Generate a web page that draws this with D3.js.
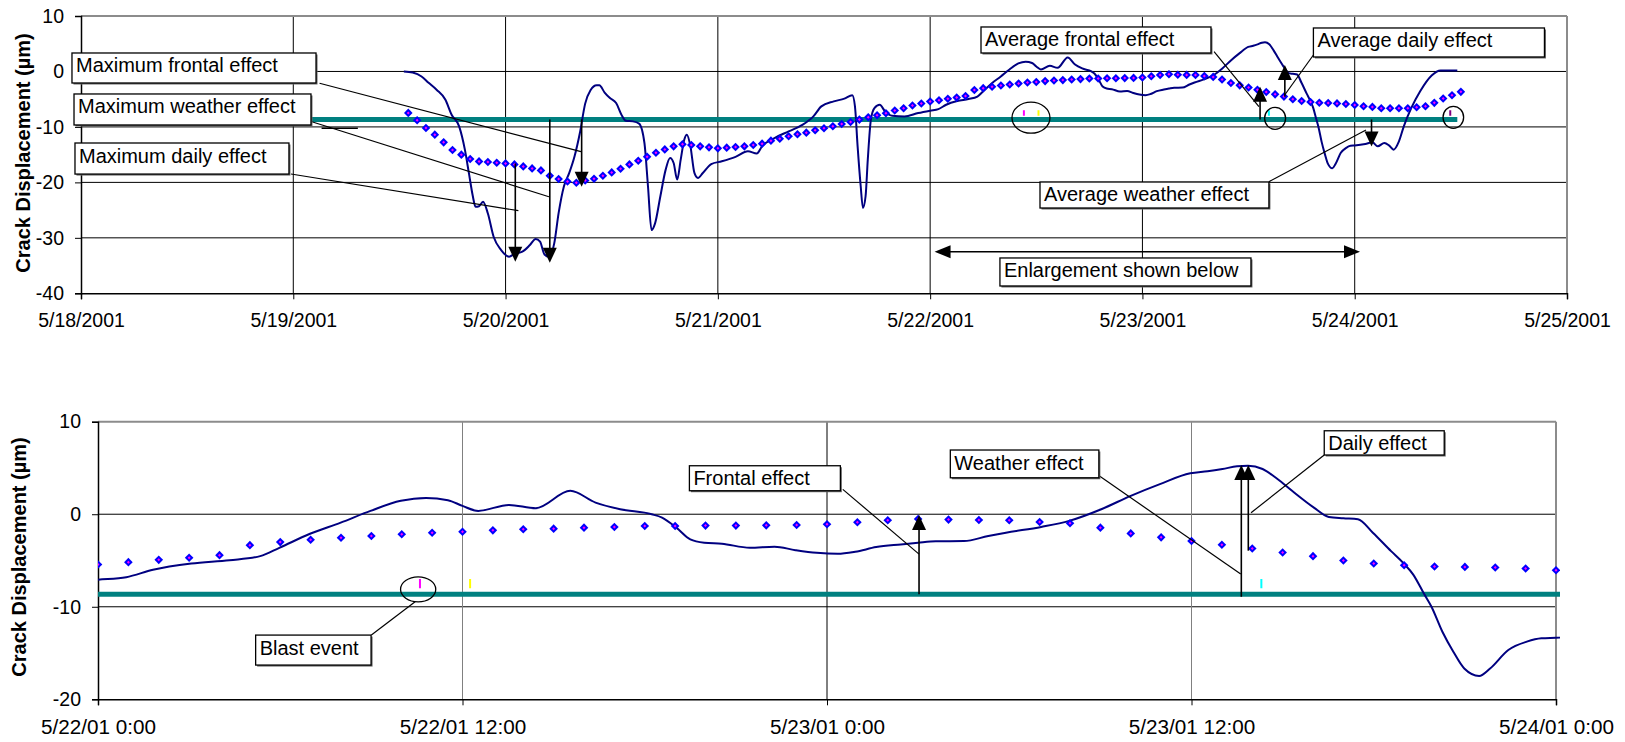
<!DOCTYPE html>
<html>
<head>
<meta charset="utf-8">
<script src="https://cdn.jsdelivr.net/npm/d3@7"></script>
<style>
  body { margin: 0; background: #fff; }
  svg { display: block; font-family: "Liberation Sans", Arial, sans-serif; }
</style>
</head>
<body>
<svg id="chart" width="1625" height="742"></svg>
<script>
// ---------------- data ----------------
// All times are hours counted from 5/18/2001 0:00.
const seriesStart = new Date(2001, 4, 18, 0, 0);

// Hourly running average of crack displacement (µm), 5/19 13:00 .. 5/24 12:00
const avgFirstHour = 37;
const avgValues = [
  -7.47, -8.8, -10.19, -11.39, -12.78, -14.16, -15.0, -15.79, -16.22, -16.33,
  -16.46, -16.58, -16.76, -17.12, -17.48, -17.84, -18.8, -19.4, -19.84, -20.07,
  -19.65, -19.35, -18.8, -18.2, -17.54, -16.76, -16.09, -15.37, -14.65, -14.05,
  -13.5, -13.14, -13.26, -13.5, -13.68, -13.86, -13.74, -13.62, -13.5, -13.26,
  -13.02, -12.48, -12.12, -11.69, -11.33, -11.03, -10.6, -10.24, -9.88, -9.46,
  -9.1, -8.68, -8.26, -7.9, -7.53, -7.05, -6.63, -6.15, -5.79,
  -5.43, -5.18, -4.93, -4.71, -4.42, -3.34, -3.01, -2.76, -2.54, -2.36,
  -2.17, -2.0, -1.89, -1.74, -1.63, -1.56, -1.45, -1.38, -1.27, -1.27,
  -1.23, -1.23, -1.2, -1.16, -1.09, -0.87, -0.65, -0.51, -0.58, -0.62,
  -0.65, -0.84, -0.98, -1.45, -2.07, -2.5, -2.9, -3.3, -3.7, -4.13,
  -4.53, -5.0, -5.33, -5.51, -5.65, -5.69, -5.76, -5.87, -6.05,
  -6.27, -6.39, -6.63, -6.63, -6.63, -6.63, -6.45, -6.27, -5.66, -4.88, -4.28, -3.68
];

// Measured crack displacement (µm)
const rawHours = [
  36.5, 37.5, 38.5, 39.3, 40.2, 41.2, 41.9, 42.75, 43.4, 43.85, 44.3, 44.6, 45.0, 45.45, 46.0,
  46.65, 47.5, 48.4, 49.0, 49.9, 50.75, 51.4, 51.9, 52.4, 52.9, 53.5, 54.0, 54.6, 55.2, 55.8,
  56.4, 57.0, 57.6, 58.3, 58.6, 59.2, 59.8, 60.5, 61.1, 61.6, 62.4, 63.1, 63.7, 64.1, 64.5,
  64.9, 65.5, 66.1, 66.6, 67.0, 67.4, 67.8, 68.2, 68.5, 68.9, 69.35, 69.75, 70.3, 71.25, 72.45,
  74.0, 75.4, 76.4, 77.0, 78.4, 80.0, 81.6, 82.8, 83.7, 85.1, 86.3, 87.2, 87.5, 87.8, 88.15,
  88.4, 88.7, 88.95, 89.3, 89.7, 90.3, 90.9, 91.7, 93.1, 94.65,
  96.0, 96.93, 97.81, 99.07, 100.33, 101.34, 101.97, 102.98, 103.99, 104.97, 105.97, 106.8,
  107.52, 108.0, 108.52, 109.53, 110.41, 111.55, 112.38, 113.19, 114.23, 114.57, 115.04, 115.5,
  115.96, 116.54, 117.46, 118.27, 118.96, 119.66, 120.35, 120.93, 121.62, 122.43, 123.0, 123.58,
  124.51, 125.31, 125.89, 127.05, 127.97, 129.03, 130.0, 130.96, 131.96, 132.53, 133.02, 133.5,
  133.86, 134.34, 134.83, 135.31, 136.03, 136.52, 137.0, 137.48, 137.97, 138.57, 138.97, 139.3,
  139.66, 139.9, 140.26, 140.62, 140.98, 141.47, 141.83, 142.43, 143.04, 143.52, 144.0,
  145.2, 146.0, 146.6, 147.35, 147.9, 148.4, 149.0, 149.55, 150.4, 151.4, 152.7, 153.7, 155.6
];
const rawValues = [
  0.0, -0.2, -0.9, -2.05, -3.3, -5.1, -7.8, -9.9, -14.1, -18.3, -22.5, -24.4, -24.3, -23.5, -25.6,
  -29.8, -32.2, -33.4, -32.9, -32.5, -31.3, -30.2, -30.7, -33.0, -33.4, -31.0, -25.5, -20.7, -18.3, -15.3,
  -11.1, -5.8, -3.4, -2.5, -2.5, -3.8, -4.8, -5.7, -7.8, -8.9, -9.0, -9.4, -12.9, -20.7, -28.6,
  -27.4, -22.5, -17.7, -15.6, -16.5, -19.5, -15.9, -12.3, -11.4, -13.5, -18.3, -19.2, -18.3, -16.7, -16.2,
  -15.4, -14.4, -14.8, -13.5, -12.0, -10.8, -9.6, -8.1, -6.3, -5.4, -4.9, -4.3, -6.3, -13.5, -20.7,
  -24.6, -22.5, -15.9, -8.7, -6.6, -6.0, -7.2, -8.0, -8.1, -7.5,
  -7.07, -6.8, -6.0, -5.33, -4.97, -4.53, -3.63, -2.11, -0.91, 0.36, 1.45, 1.76,
  1.52, 0.9, 0.36, 1.01, 0.65, 2.53, 1.26, 0.54, 0.0, -0.36, -1.45, -2.72,
  -3.08, -3.19, -3.62, -3.51, -3.88, -4.17, -4.28, -4.06, -3.55, -3.26, -3.08, -2.93,
  -2.9, -2.35, -1.99, -1.37, -0.72, 0.54, 1.99, 3.26, 4.42, 4.64, 4.89, 5.18,
  5.25, 4.89, 3.8, 2.53, 0.72, -0.29, -0.43, -0.54, -2.0, -3.99, -5.26, -6.52,
  -8.63, -10.0, -12.7, -14.86, -16.67, -17.47, -16.67, -14.67, -13.77, -13.41, -13.35,
  -13.08, -12.78, -13.5, -12.9, -13.38, -14.1, -12.6, -9.89, -6.57, -3.56, -0.72, 0.18, 0.18
];

// Reference (baseline) level and its extent in the overview
const baselineValue = -8.65;
const baselineHours = [0, 155.6];

// Blast events
const blastHours = [106.6, 108.25, 134.3, 154.8];
const blastColors = ["#ff00ff", "#ffff00", "#00ffff", "#800080"];

// Axis ticks
const topDayHours = [0, 24, 48, 72, 96, 120, 144, 168];
const topTickLabels = ["5/18/2001", "5/19/2001", "5/20/2001", "5/21/2001", "5/22/2001", "5/23/2001", "5/24/2001", "5/25/2001"];
const topYTicks = [10, 0, -10, -20, -30, -40];
const bottomTickHours = [96, 108, 120, 132, 144];
const bottomTickLabels = ["5/22/01 0:00", "5/22/01 12:00", "5/23/01 0:00", "5/23/01 12:00", "5/24/01 0:00"];
const bottomYTicks = [10, 0, -10, -20];
const yTitle = "Crack Displacement (\u00b5m)";

// Callouts: box = [startHour, endHour, topValue, bottomValue]
const topCallouts = [
  { text: "Maximum frontal effect", box: [-1.02, 26.57, 3.33, -2.08], leader: [[26.97, -2.13], [56.53, -14.46]] },
  { text: "Maximum weather effect", box: [-0.79, 26.0, -4.06, -9.65], leader: [[26.1, -9.06], [52.9, -22.6]] },
  { text: "Maximum daily effect", box: [-0.68, 23.51, -12.9, -18.5], leader: [[23.74, -18.49], [49.45, -25.1]] },
  { text: "Average frontal effect", box: [101.75, 127.75, 8.02, 3.33], leader: [[128.1, 3.57], [133.17, -6.34]] },
  { text: "Average daily effect", box: [139.33, 165.45, 7.84, 2.61], leader: [[139.33, 2.97], [136.1, -4.2]] },
  { text: "Average weather effect", box: [108.42, 134.3, -19.93, -24.62], leader: [[134.3, -19.87], [145.27, -10.55]] },
  { text: "Enlargement shown below", box: [103.89, 132.27, -33.63, -38.68], leader: null }
];
// Arrows: [hour, fromValue, tipValue]
const topArrows = [
  [56.6, baselineValue, -20.8],
  [53.0, baselineValue, -34.5],
  [49.1, -16.6, -34.3],
  [133.3, baselineValue, -2.75],
  [136.1, -4.55, 1.15],
  [145.9, baselineValue, -13.55]
];
// Circled blast events: [hour, value, rx, ry]
const topRings = [[107.4, -8.34, 19, 15.5], [135.0, -8.45, 10.5, 11], [155.15, -8.27, 10.3, 11]];
const enlargeSpan = [96.5, 144.6, -32.5];
const topStubs = [[27.2, 31.3, -10.25]];

const bottomCallouts = [
  { text: "Blast event", box: [101.19, 104.99, -13.06, -16.3], leader: [[105.0, -13.06], [106.44, -9.46]] },
  { text: "Frontal effect", box: [115.47, 120.44, 5.24, 2.54], leader: [[120.52, 2.69], [123.03, -4.31]] },
  { text: "Weather effect", box: [124.06, 128.95, 6.94, 3.94], leader: [[128.97, 4.13], [133.62, -6.46]] },
  { text: "Daily effect", box: [136.37, 140.32, 9.02, 6.4], leader: [[136.37, 6.4], [133.96, 0.16]] }
];
const bottomArrows = [
  [123.03, baselineValue, -0.09],
  [133.64, -8.92, 5.32],
  [133.87, -3.94, 5.32]
];
const bottomRings = [[106.54, -8.12, 17.6, 12.5]];

// ---------------- drawing ----------------
const HOUR = 3600 * 1000;
const at = h => new Date(seriesStart.getTime() + h * HOUR);
const svg = d3.select("#chart");

const avgPoints = avgValues.map((v, i) => ({ h: avgFirstHour + i, v }));
const rawPoints = rawValues.map((v, i) => ({ h: rawHours[i], v }));

function diamond(r) { return `M0,${-r}L${r},0L0,${r}L${-r},0Z`; }

function drawPanel(cfg) {
  const { x, y, xTicks, xLabels, yTicks, xFontSize, gridColorX, clipId, hGrid } = cfg;
  const [x0, x1] = x.range();
  const [yb, yt] = y.range();
  const g = svg.append("g");

  // clip region for the series
  svg.append("clipPath").attr("id", clipId).append("rect")
    .attr("x", x0).attr("y", yt - 2).attr("width", x1 - x0 + 4).attr("height", yb - yt + 4);

  // gridlines
  g.selectAll("line.hg").data(hGrid).join("line")
    .attr("x1", x0).attr("x2", x1).attr("y1", d => y(d)).attr("y2", d => y(d))
    .attr("stroke", "#000").attr("stroke-width", 1);
  g.selectAll("line.vg").data(xTicks.slice(1, -1)).join("line")
    .attr("x1", d => x(at(d))).attr("x2", d => x(at(d))).attr("y1", yt).attr("y2", yb)
    .attr("stroke", (d) => gridColorX(d)).attr("stroke-width", 1);

  // plot frame: grey top and right, black axes
  g.append("line").attr("x1", x0).attr("x2", x1).attr("y1", yt).attr("y2", yt).attr("stroke", "#8c8c8c").attr("stroke-width", 2);
  g.append("line").attr("x1", x1).attr("x2", x1).attr("y1", yt).attr("y2", yb).attr("stroke", "#8c8c8c").attr("stroke-width", 2);

  // axes
  const yAxis = d3.axisLeft(y).tickValues(yTicks).tickSize(6).tickPadding(11).tickFormat(d => String(d));
  const ya = g.append("g").attr("transform", `translate(${x0},0)`).call(yAxis);
  ya.select(".domain").attr("stroke", "#000").attr("stroke-width", 1.5);
  ya.selectAll(".tick line").attr("stroke", "#000");
  ya.selectAll("text").attr("font-size", 19.5).attr("fill", "#000")
    .attr("font-family", '"Liberation Sans", Arial, sans-serif');

  const xAxis = d3.axisBottom(x).tickValues(xTicks.map(at)).tickSize(6).tickPadding(14)
    .tickFormat((d, i) => xLabels[i]);
  const xa = g.append("g").attr("transform", `translate(0,${yb})`).call(xAxis);
  xa.select(".domain").attr("stroke", "#000").attr("stroke-width", 1.5);
  xa.selectAll(".tick line").attr("stroke", "#000");
  xa.selectAll("text").attr("font-size", xFontSize).attr("fill", "#000")
    .attr("font-family", '"Liberation Sans", Arial, sans-serif');

  return g;
}

function drawSeries(g, x, y, clipId, baseFrom, baseTo, hMin, hMax) {
  const s = g.append("g").attr("clip-path", `url(#${clipId})`);
  // baseline level
  s.append("line")
    .attr("x1", x(at(baseFrom))).attr("x2", x(at(baseTo)))
    .attr("y1", y(baselineValue)).attr("y2", y(baselineValue))
    .attr("stroke", "#008080").attr("stroke-width", 5);
  // measured displacement
  const line = d3.line().x(d => x(at(d.h))).y(d => y(d.v)).curve(d3.curveMonotoneX);
  s.append("path").datum(rawPoints.filter(d => d.h >= hMin - 2 && d.h <= hMax + 2))
    .attr("d", line).attr("fill", "none").attr("stroke", "#000080").attr("stroke-width", 2);
  // running average markers
  const dots = s.selectAll("g.avg").data(avgPoints.filter(d => d.h >= hMin && d.h <= hMax)).join("g")
    .attr("transform", d => `translate(${x(at(d.h))},${y(d.v)})`);
  dots.append("path").attr("d", diamond(4.3)).attr("fill", "#0000ff");
  dots.append("path").attr("d", diamond(1.5)).attr("fill", "#ff00ff");
  // blast markers
  s.selectAll("line.blast").data(blastHours.filter(h => h >= hMin && h <= hMax)).join("line")
    .attr("x1", h => x(at(h))).attr("x2", h => x(at(h)))
    .attr("y1", y(-7.0)).attr("y2", y(-8.0))
    .attr("stroke", h => blastColors[blastHours.indexOf(h)]).attr("stroke-width", 2);
}

function drawArrow(g, x, y, a) {
  const [h, vFrom, vTip] = a;
  const px = x(at(h)), y0 = y(vFrom), y1 = y(vTip);
  const dir = y1 < y0 ? 1 : -1;
  const L = 15, W = 7;
  g.append("line").attr("x1", px).attr("x2", px).attr("y1", y0).attr("y2", y1 + dir * L * 0.6)
    .attr("stroke", "#000").attr("stroke-width", 1.6);
  g.append("path").attr("d", `M${px},${y1}L${px - W},${y1 + dir * L}L${px + W},${y1 + dir * L}Z`).attr("fill", "#000");
}

function drawCallout(g, x, y, c) {
  const bx0 = x(at(c.box[0])), bx1 = x(at(c.box[1]));
  const by0 = y(c.box[2]), by1 = y(c.box[3]);
  if (c.leader) {
    g.append("line")
      .attr("x1", x(at(c.leader[0][0]))).attr("y1", y(c.leader[0][1]))
      .attr("x2", x(at(c.leader[1][0]))).attr("y2", y(c.leader[1][1]))
      .attr("stroke", "#000").attr("stroke-width", 1.2);
  }
  g.append("rect").attr("x", bx0 + 1.5).attr("y", by0 + 1.5).attr("width", bx1 - bx0).attr("height", by1 - by0)
    .attr("fill", "#666");
  g.append("rect").attr("x", bx0).attr("y", by0).attr("width", bx1 - bx0).attr("height", by1 - by0)
    .attr("fill", "#fff").attr("stroke", "#000").attr("stroke-width", 1.3);
  g.append("text").attr("x", bx0 + 4).attr("y", by0 + 19.5).attr("font-size", 20).attr("fill", "#000").text(c.text);
}

function drawRings(g, x, y, rings) {
  g.selectAll("ellipse.ring").data(rings).join("ellipse")
    .attr("cx", d => x(at(d[0]))).attr("cy", d => y(d[1]))
    .attr("rx", d => d[2]).attr("ry", d => d[3])
    .attr("fill", "none").attr("stroke", "#000").attr("stroke-width", 1.3);
}

// ---- overview panel ----
const xTop = d3.scaleTime().domain([at(0), at(168)]).range([81, 1567]);
const yTop = d3.scaleLinear().domain([-40, 10]).range([293.3, 16]);
const gTop = drawPanel({
  x: xTop, y: yTop, xTicks: topDayHours, xLabels: topTickLabels, yTicks: topYTicks,
  xFontSize: 19.5, gridColorX: () => "#000", clipId: "clipTop", hGrid: [0, -10, -20, -30]
});
topStubs.forEach(s => {
  gTop.append("line").attr("x1", xTop(at(s[0]))).attr("x2", xTop(at(s[1])))
    .attr("y1", yTop(s[2])).attr("y2", yTop(s[2])).attr("stroke", "#000").attr("stroke-width", 1.5);
});
drawSeries(gTop, xTop, yTop, "clipTop", baselineHours[0], baselineHours[1], 0, 168);
drawRings(gTop, xTop, yTop, topRings);
topArrows.forEach(a => drawArrow(gTop, xTop, yTop, a));
topCallouts.forEach(c => drawCallout(gTop, xTop, yTop, c));
// enlargement span arrow
{
  const ex0 = xTop(at(enlargeSpan[0])), ex1 = xTop(at(enlargeSpan[1])), ey = yTop(enlargeSpan[2]);
  gTop.append("line").attr("x1", ex0 + 10).attr("x2", ex1 - 10).attr("y1", ey).attr("y2", ey)
    .attr("stroke", "#000").attr("stroke-width", 1.6);
  gTop.append("path").attr("d", `M${ex0},${ey}L${ex0 + 16},${ey - 6.5}L${ex0 + 16},${ey + 6.5}Z`).attr("fill", "#000");
  gTop.append("path").attr("d", `M${ex1},${ey}L${ex1 - 16},${ey - 6.5}L${ex1 - 16},${ey + 6.5}Z`).attr("fill", "#000");
}
svg.append("text").attr("transform", `translate(30,153) rotate(-90)`).attr("text-anchor", "middle")
  .attr("font-size", 20).attr("font-weight", "bold").text(yTitle);

// ---- enlargement panel ----
const xBot = d3.scaleTime().domain([at(96), at(144)]).range([98, 1556]);
const yBot = d3.scaleLinear().domain([-20, 10]).range([699.3, 421.7]);
const gBot = drawPanel({
  x: xBot, y: yBot, xTicks: bottomTickHours, xLabels: bottomTickLabels, yTicks: bottomYTicks,
  xFontSize: 20.7, gridColorX: d => (d % 24 === 0 ? "#000" : "#808080"), clipId: "clipBot", hGrid: [0, -10]
});
drawSeries(gBot, xBot, yBot, "clipBot", 95, 145, 96, 144);
drawRings(gBot, xBot, yBot, bottomRings);
bottomArrows.forEach(a => drawArrow(gBot, xBot, yBot, a));
bottomCallouts.forEach(c => drawCallout(gBot, xBot, yBot, c));
svg.append("text").attr("transform", `translate(26,557) rotate(-90)`).attr("text-anchor", "middle")
  .attr("font-size", 20).attr("font-weight", "bold").text(yTitle);
</script>
</body>
</html>
